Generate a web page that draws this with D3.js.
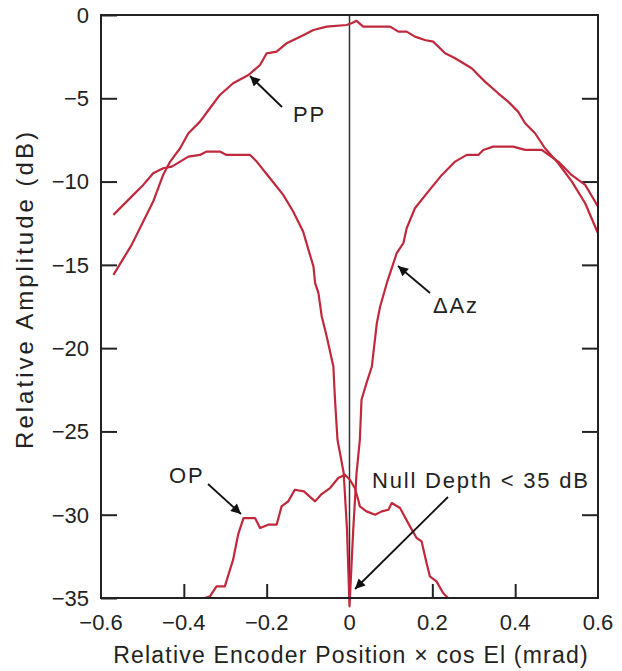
<!DOCTYPE html>
<html>
<head>
<meta charset="utf-8">
<script src="https://cdn.jsdelivr.net/npm/d3@7"></script>
<style>
  body { margin: 0; background: #fff; }
  svg text { font-family: "Liberation Sans", Arial, sans-serif; fill: #222; }
</style>
</head>
<body>
<div id="chart"></div>
<script>
// data (x in mrad, y in dB)
var ppX = [-0.570, -0.526, -0.498, -0.474, -0.450, -0.433, -0.409, -0.389, -0.361, -0.337, -0.313, -0.281, -0.244, -0.216, -0.200, -0.176, -0.152, -0.119, -0.087, -0.055, -0.007, 0.005, 0.017, 0.033, 0.098, 0.118, 0.138, 0.158, 0.182, 0.202, 0.231, 0.255, 0.295, 0.327, 0.359, 0.383, 0.407, 0.424, 0.448, 0.472, 0.504, 0.537, 0.569, 0.600];
var ppY = [-15.6, -13.8, -12.4, -11.2, -9.6, -8.8, -8.0, -7.1, -6.4, -5.6, -4.8, -4.1, -3.6, -3.0, -2.3, -2.2, -1.7, -1.3, -0.9, -0.7, -0.6, -0.5, -0.35, -0.7, -0.7, -1.0, -1.0, -1.3, -1.5, -1.6, -2.3, -2.6, -3.2, -4.0, -4.7, -5.2, -5.8, -6.5, -7.1, -8.0, -8.9, -10.0, -11.3, -13.1];

var azX = [-0.570, -0.546, -0.522, -0.498, -0.474, -0.450, -0.429, -0.409, -0.389, -0.361, -0.345, -0.313, -0.297, -0.240, -0.224, -0.192, -0.160, -0.136, -0.112, -0.099, -0.087, -0.083, -0.075, -0.067, -0.055, -0.039, -0.035, -0.029, -0.014, -0.006, 0.000, 0.009, 0.017, 0.025, 0.029, 0.041, 0.054, 0.066, 0.074, 0.090, 0.114, 0.130, 0.138, 0.158, 0.190, 0.223, 0.255, 0.283, 0.311, 0.323, 0.347, 0.395, 0.424, 0.464, 0.504, 0.536, 0.569, 0.600];
var azY = [-12.0, -11.4, -10.8, -10.2, -9.5, -9.2, -9.1, -8.8, -8.5, -8.4, -8.2, -8.2, -8.4, -8.4, -8.8, -9.8, -10.8, -11.8, -13.0, -14.1, -15.1, -16.1, -16.7, -18.1, -19.3, -21.1, -23.1, -25.5, -27.5, -30.9, -35.5, -30.9, -27.5, -25.5, -23.1, -22.1, -21.1, -18.5, -17.5, -16.1, -14.3, -13.7, -12.8, -11.6, -10.6, -9.6, -8.8, -8.4, -8.4, -8.1, -7.9, -7.9, -8.1, -8.1, -8.8, -9.6, -10.2, -11.5];

var opX = [-0.349, -0.337, -0.321, -0.301, -0.281, -0.269, -0.256, -0.228, -0.216, -0.196, -0.176, -0.164, -0.148, -0.132, -0.110, -0.083, -0.069, -0.047, -0.027, -0.011, 0.001, 0.013, 0.021, 0.025, 0.041, 0.062, 0.078, 0.094, 0.102, 0.122, 0.146, 0.162, 0.174, 0.186, 0.194, 0.210, 0.226, 0.238, 0.600];
var opY = [-35.0, -34.9, -34.3, -34.3, -32.7, -31.2, -30.2, -30.2, -30.8, -30.6, -30.6, -29.5, -29.2, -28.5, -28.6, -29.2, -28.8, -28.4, -27.8, -27.6, -27.9, -28.4, -29.1, -29.5, -29.8, -30.0, -29.8, -29.7, -29.3, -29.6, -30.7, -31.4, -31.6, -32.9, -33.7, -34.0, -34.7, -35.0, -35.0];

var xTicks = [-0.6, -0.4, -0.2, 0, 0.2, 0.4, 0.6];
var yTicks = [0, -5, -10, -15, -20, -25, -30, -35];

(function() {
var W = 622, H = 671;
var pL = 101, pR = 598, pT = 15, pB = 598;
var red = "#c0283c";

var svg = d3.select("#chart").append("svg")
  .attr("width", W).attr("height", H);

var x = d3.scaleLinear().domain([-0.6, 0.6]).range([pL, pR]);
var y = d3.scaleLinear().domain([-35, 0]).range([pB, pT]);

function fmt(v) {
  return v === 0 ? "0" : d3.format(".1f")(v).replace("-", "\u2212");
}

// zero line
svg.append("line")
  .attr("x1", x(0)).attr("x2", x(0))
  .attr("y1", pT).attr("y2", pB)
  .attr("stroke", "#333").attr("stroke-width", 1.5);

// axes (ticks pointing inward)
svg.append("g")
  .attr("transform", "translate(" + pL + ",0)")
  .call(d3.axisRight(y).tickValues(yTicks).tickSize(16).tickFormat(""))
  .call(function(g) { g.select(".domain").remove(); });

svg.append("g")
  .attr("transform", "translate(" + pR + ",0)")
  .call(d3.axisLeft(y).tickValues(yTicks.slice(1, -1)).tickSize(16).tickFormat(""))
  .call(function(g) { g.select(".domain").remove(); });

svg.append("g")
  .attr("transform", "translate(0," + pB + ")")
  .call(d3.axisTop(x).tickValues([-0.4, -0.2, 0.2, 0.4]).tickSize(14).tickFormat(""))
  .call(function(g) { g.select(".domain").remove(); });

svg.selectAll(".tick line").attr("stroke", "#222").attr("stroke-width", 2);

// tick labels
svg.append("g").selectAll("text")
  .data(yTicks).enter().append("text")
  .attr("x", pL - 12)
  .attr("y", function(d) { return y(d); })
  .attr("dy", "0.36em")
  .attr("text-anchor", "end")
  .style("font-size", "22px")
  .text(function(d) { return d === 0 ? "0" : "\u2212" + Math.abs(d); });

svg.append("g").selectAll("text")
  .data(xTicks).enter().append("text")
  .attr("x", function(d) { return x(d); })
  .attr("y", pB + 32)
  .attr("text-anchor", "middle")
  .style("font-size", "22px")
  .text(fmt);

// axis titles
svg.append("text")
  .attr("x", 351)
  .attr("y", 663)
  .attr("text-anchor", "middle")
  .style("font-size", "23px")
  .style("letter-spacing", "1.2px")
  .text("Relative Encoder Position \u00d7 cos El (mrad)");

svg.append("text")
  .attr("transform", "translate(33,289) rotate(-90)")
  .attr("text-anchor", "middle")
  .style("font-size", "24px")
  .style("letter-spacing", "3px")
  .text("Relative Amplitude (dB)");

// curves
var line = d3.line().x(function(d) { return x(d[0]); }).y(function(d) { return y(d[1]); });
[[ppX, ppY], [azX, azY], [opX, opY]].forEach(function(s) {
  svg.append("path")
    .datum(d3.zip(s[0], s[1]))
    .attr("d", line)
    .attr("fill", "none")
    .attr("stroke", red)
    .attr("stroke-width", 2.2)
    .attr("stroke-linejoin", "round");
});

// frame
svg.append("rect")
  .attr("x", pL).attr("y", pT)
  .attr("width", pR - pL).attr("height", pB - pT)
  .attr("fill", "none").attr("stroke", "#222").attr("stroke-width", 2);

// annotations
svg.append("defs").append("marker")
  .attr("id", "arr").attr("viewBox", "0 0 10 10")
  .attr("refX", 10).attr("refY", 5)
  .attr("markerWidth", 16).attr("markerHeight", 10)
  .attr("markerUnits", "userSpaceOnUse")
  .attr("orient", "auto")
  .append("path").attr("d", "M0,0 L10,5 L0,10 z").attr("fill", "#111");

function note(label, tx, ty, x1, y1, x2, y2) {
  svg.append("text").attr("x", tx).attr("y", ty)
    .style("font-size", "22px").style("letter-spacing", "1.8px").text(label);
  svg.append("line")
    .attr("x1", x1).attr("y1", y1).attr("x2", x2).attr("y2", y2)
    .attr("stroke", "#111").attr("stroke-width", 1.8)
    .attr("marker-end", "url(#arr)");
}

note("PP", 293, 122, 282, 107, 250, 76);
note("\u0394Az", 433, 313, 430, 293, 398, 266);
note("OP", 169, 483, 208, 484, 241, 514);
note("Null Depth < 35 dB", 372, 488, 448, 497, 355, 589);
})();
</script>
</body>
</html>
